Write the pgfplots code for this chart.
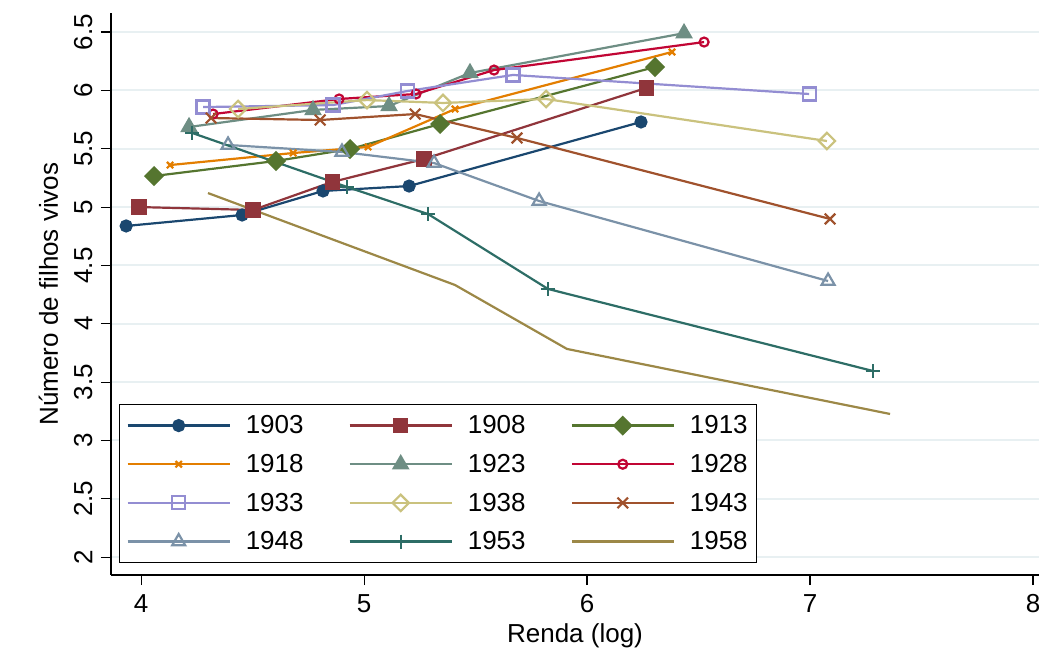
\documentclass[border=0pt]{standalone}
\usepackage{fontspec}
\setmainfont{Liberation Sans}
\usepackage{pgfplots}
\pgfplotsset{compat=1.18}

% Stata s2color palette
\definecolor{cnavy}{HTML}{1A476F}
\definecolor{cmaroon}{HTML}{90353B}
\definecolor{cgreen}{HTML}{55752F}
\definecolor{corange}{HTML}{E37E00}
\definecolor{cteal}{HTML}{6E8E84}
\definecolor{ccran}{HTML}{C10534}
\definecolor{clav}{HTML}{938DD2}
\definecolor{ckhaki}{HTML}{CAC27E}
\definecolor{csienna}{HTML}{A0522D}
\definecolor{cemid}{HTML}{7B92A8}
\definecolor{cemer}{HTML}{2D6D66}
\definecolor{cbrown}{HTML}{9C8847}
\definecolor{gridc}{HTML}{E8F0F2}

\newcommand{\bigfont}{\fontsize{26}{30}\selectfont}

\pgfplotsset{ser/.style={color=#1, line width=2.2pt, mark options={solid, fill=#1}}}

\begin{document}
\begin{tikzpicture}
\begin{axis}[
  scale only axis, width=928pt, height=562pt,
  xmin=3.865, xmax=8.027, ymin=1.847, ymax=6.663,
  axis lines=left, axis line style={-, line width=1.3pt},
  xtick={4,5,6,7,8}, ytick={2,2.5,...,6.5},
  tick align=outside, major tick length=10pt,
  tick style={line width=1.1pt, black},
  ymajorgrids, grid style={color=gridc, line width=2pt},
  /pgf/number format/assume math mode=true,
  tick label style={font=\bigfont},
  label style={font=\bigfont},
  yticklabel style={rotate=90, anchor=south},
  yticklabel shift=5pt, xticklabel shift=6pt,
  ylabel shift=9pt, xlabel shift=4pt,
  xlabel={Renda (log)}, ylabel={Número de filhos vivos},
  legend columns=3,
  legend cell align=left,
  legend image code/.code={\draw[mark repeat=2,mark phase=2] plot coordinates {(0pt,0pt) (51pt,0pt) (102pt,0pt)};},
  legend style={at={(0.0086,0.0214)}, anchor=south west, draw=black, line width=1.2pt,
    font=\bigfont, inner xsep=7pt, inner ysep=9pt, row sep=15pt,
    /tikz/every odd column/.append style={column sep=13pt},
    /tikz/every even column/.append style={column sep=43pt}},
]
\addplot[ser=cnavy, mark=*, mark size=5.5pt] coordinates {(3.933,4.838) (4.453,4.932) (4.816,5.138) (5.202,5.180) (6.242,5.729)};
\addlegendentry{1903}
\addplot[ser=cmaroon, mark=square*, mark size=6.5pt] coordinates {(3.991,5.000) (4.502,4.975) (4.857,5.215) (5.269,5.412) (6.265,6.020)};
\addlegendentry{1908}
\addplot[ser=cgreen, mark=square*, mark size=6pt, mark options={solid, fill=cgreen, rotate=45}] coordinates {(4.058,5.266) (4.605,5.395) (4.937,5.497) (5.341,5.712) (6.305,6.200)};
\addlegendentry{1913}
\addplot[ser=corange, mark=x, mark size=4.5pt] coordinates {(4.130,5.360) (4.682,5.463) (5.018,5.515) (5.408,5.840) (6.381,6.329)};
\addlegendentry{1918}
\addplot[ser=cteal, mark=triangle*, mark size=8pt] coordinates {(4.215,5.686) (4.771,5.832) (5.112,5.866) (5.475,6.149) (6.435,6.490)};
\addlegendentry{1923}
\addplot[ser=ccran, mark=o, mark size=4.5pt] coordinates {(4.323,5.797) (4.888,5.926) (5.233,5.969) (5.583,6.174) (6.525,6.414)};
\addlegendentry{1928}
\addplot[ser=clav, mark=square, mark size=6.5pt, mark options={solid, fill=none}] coordinates {(4.278,5.857) (4.861,5.874) (5.193,5.994) (5.668,6.132) (6.996,5.969)};
\addlegendentry{1933}
\addplot[ser=ckhaki, mark=square, mark size=5.8pt, mark options={solid, fill=none, rotate=45}] coordinates {(4.435,5.840) (5.013,5.917) (5.354,5.892) (5.816,5.926) (7.076,5.566)};
\addlegendentry{1938}
\addplot[ser=csienna, mark=x, mark size=7.5pt] coordinates {(4.314,5.763) (4.803,5.746) (5.229,5.797) (5.686,5.592) (7.090,4.898)};
\addlegendentry{1943}
\addplot[ser=cemid, mark=triangle, mark size=7.5pt, mark options={solid, fill=none}] coordinates {(4.390,5.532) (4.901,5.472) (5.314,5.377) (5.785,5.052) (7.081,4.366)};
\addlegendentry{1948}
\addplot[ser=cemer, mark=+, mark size=7pt] coordinates {(4.229,5.635) (4.924,5.172) (5.287,4.940) (5.825,4.298) (7.283,3.595)};
\addlegendentry{1953}
\addplot[ser=cbrown, no marks] coordinates {(4.300,5.120) (5.408,4.332) (5.910,3.784) (7.359,3.227)};
\addlegendentry{1958}
\end{axis}
\pgfresetboundingbox
\path[use as bounding box] ([shift={(-111pt,-75pt)}]current axis.south west) rectangle ([shift={(928pt,575pt)}]current axis.south west);
\end{tikzpicture}
\end{document}
